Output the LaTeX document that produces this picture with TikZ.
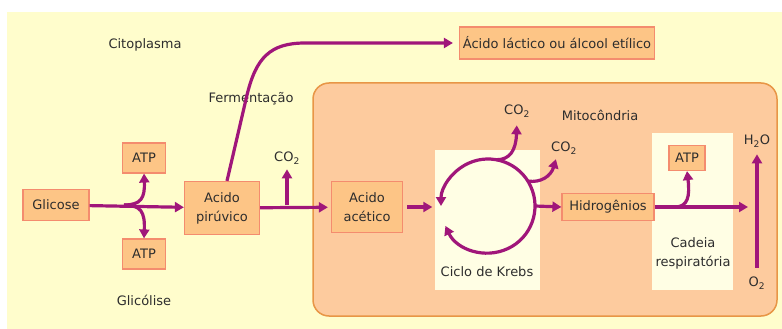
\documentclass[tikz,border=0pt]{standalone}
\usepackage{fontspec}
\setmainfont{DejaVu Sans}
\usetikzlibrary{arrows.meta,positioning,calc}
\pgfdeclarelayer{background}
\pgfsetlayers{background,main}
\definecolor{roxo}{RGB}{160,22,122}
\definecolor{laranja}{RGB}{253,197,134}
\definecolor{salmao}{RGB}{244,140,110}
\definecolor{pessego}{RGB}{253,203,158}
\definecolor{borda}{RGB}{232,150,70}
\definecolor{creme}{RGB}{255,253,204}
\definecolor{claro}{RGB}{255,254,228}
\definecolor{tinta}{RGB}{45,45,45}
\newcommand{\txtsize}{\fontsize{13}{19}\selectfont}
\tikzstyle{txt}=[text=tinta, font=\txtsize, inner sep=1pt]
\tikzstyle{mol}=[txt, draw=salmao, fill=laranja, line width=1.2pt,
    align=center, inner sep=3pt]
\tikzstyle{zone}=[fill=claro, draw=none]
\tikzstyle{flow}=[draw=roxo, line width=3.2pt, >={Triangle[length=9pt,width=10pt]}]
\def\krebsr{47pt}

\begin{document}
\begin{tikzpicture}[x=1pt,y=-1pt]
    \useasboundingbox (0,0) rectangle (782,329);
    \begin{pgfonlayer}{background}
        \fill[creme] (7,12) rectangle (782,329);
        \path[draw=borda, fill=pessego, line width=1.5pt, rounded corners=16pt]
            (313,83) rectangle (777,316);
    \end{pgfonlayer}
    \node (krebs) [zone, minimum width=105pt, minimum height=140pt] at (487,220) {};
    \node (cadeia) [zone, minimum width=81pt, minimum height=157pt] at (692,211) {};
    \node (kcap) [txt] at (487,272) {Ciclo de Krebs};
    \node (ccap) [txt, align=center] at (693,253) {Cadeia\\respiratória};
    \node (cito) [txt] at (145,45) {Citoplasma};
    \node (glic) [txt] at (144,300) {Glicólise};
    \node (ferm) [txt] at (251,99) {Fermentação};
    \node (mito) [txt] at (600,115) {Mitocôndria};
    \node (glicose) [mol, minimum width=66pt, minimum height=31pt] at (56,205) {Glicose};
    \node (atpa) [mol, minimum width=43pt, minimum height=30pt] at (144,158) {ATP};
    \node (atpb) [mol, minimum width=43pt, minimum height=30pt] at (144,254) {ATP};
    \node (piruvico) [mol, minimum width=75pt, minimum height=53pt] at (222,208) {Acido\\pirúvico};
    \node (lactico) [mol, minimum width=195pt, minimum height=32pt] at (557,43) {Ácido láctico ou álcool etílico};
    \node (acetico) [mol, minimum width=71pt, minimum height=51pt] at (367,207) {Acido\\acético};
    \node (hidro) [mol, minimum width=92pt, minimum height=27pt] at (608,207) {Hidrogênios};
    \node (atpc) [mol, minimum width=36pt, minimum height=25pt] at (687,158) {ATP};
    \node (co2a) [txt] at (287,158) {CO\textsubscript{2}};
    \node (co2b) [txt] at (517,111) {CO\textsubscript{2}};
    \node (co2c) [txt] at (564,148) {CO\textsubscript{2}};
    \node (h2o) [txt] at (757,141) {H\textsubscript{2}O};
    \node (o2) [txt] at (757,283) {O\textsubscript{2}};
    % glicolise
    \coordinate (fork) at (124,205);
    \draw[flow,->] (glicose) -- (piruvico);
    \draw[flow,->] (fork) .. controls (141,205) and (145,198) .. (atpa.south);
    \draw[flow,->] (fork) .. controls (141,205) and (145,212) .. (atpb.north);
    \draw[flow,->, shorten >=6pt] ([xshift=5pt]piruvico.north) -- (247,95)
        .. controls (256,58) and (270,43) .. (305,43) -- (lactico.west);
    \coordinate (cofork) at (287,205);
    \draw[flow,->, shorten >=3pt] (piruvico) -- (acetico);
    \draw[flow,->, shorten >=4pt] (cofork) -- (co2a.south);
    % krebs
    \coordinate (kc) at (488,206);
    \draw[flow,->, shorten >=2pt] ([xshift=4pt]acetico.east) -- (acetico.east -| krebs.west);
    \draw[flow,<->] ([shift={(205:\krebsr)}]kc) arc[start angle=205, end angle=540, radius=\krebsr];
    \coordinate (k1) at ([shift={(80:\krebsr)}]kc);
    \coordinate (k2) at ([shift={(32:\krebsr)}]kc);
    \draw[flow,->, shorten >=7pt] (k1) .. controls (510,160) and (516,150) .. (co2b.south);
    \draw[flow,->, shorten >=4pt] (k2) .. controls (541,183) and (551,176) .. ([xshift=-7pt]co2c.south);
    \draw[flow,->] ([shift={(0:\krebsr)}]kc) -- (hidro.west);
    % cadeia respiratoria
    \coordinate (atpfork) at (675,207);
    \coordinate (vline) at (757,207);
    \draw[flow,->, shorten >=9pt] (hidro) -- (vline);
    \draw[flow,->] (atpfork) .. controls (688,207) and (690,196) .. (atpc.south);
    \draw[flow,->, shorten <=8pt, shorten >=6pt] (o2.north) -- (h2o.south);
\end{tikzpicture}
\end{document}
